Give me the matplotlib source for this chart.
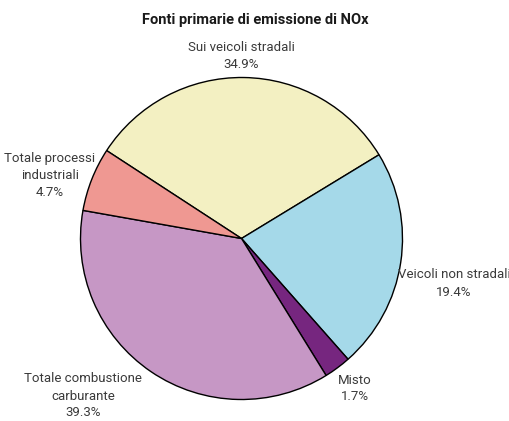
import matplotlib
matplotlib.use("Agg")
import matplotlib.pyplot as plt

# Slice order: clockwise starting from the upper-left edge of the yellow slice
categories = ["Sui veicoli stradali", "Veicoli non stradali", "Misto",
              "Totale combustione\ncarburante", "Totale processi\nindustriali"]
label_pcts = ["34.9%", "19.4%", "1.7%", "39.3%", "4.7%"]
# shares as actually drawn in the picture (measured from the wedge angles)
drawn_shares = [32.1, 22.2, 2.7, 36.6, 6.4]
colors = ["#F3F0C2", "#A5D9E9", "#76267F", "#C697C5", "#EF9892"]

plt.rcParams['font.family'] = ['Roboto', 'DejaVu Sans']

fig = plt.figure(figsize=(5.09, 4.21), dpi=100)
ax = fig.add_axes([0, 0, 1, 1])

ax.pie(drawn_shares, colors=colors, startangle=146.9, counterclock=False,
       center=(241.5, 182.5), radius=161,
       wedgeprops=dict(edgecolor="black", linewidth=1.0))

ax.set_xlim(0, 509)
ax.set_ylim(0, 421)
ax.set_aspect("equal")
ax.axis("off")

# label positions in pixels (x, y from top)
label_pos = [(241, 56), (454, 283.5), (355, 388.5), (83, 396), (50, 175.5)]
for name, pct, (x, y) in zip(categories, label_pcts, label_pos):
    ax.text(x, 421 - y, name + "\n" + pct, ha="center", va="center",
            fontsize=9.5, color="#3a3a3a", linespacing=1.4)

ax.text(255, 421 - 20, "Fonti primarie di emissione di NOx", ha="center",
        va="center", fontsize=10.5, fontweight="bold", color="#1a1a1a")

fig.savefig("out.png", dpi=100)
